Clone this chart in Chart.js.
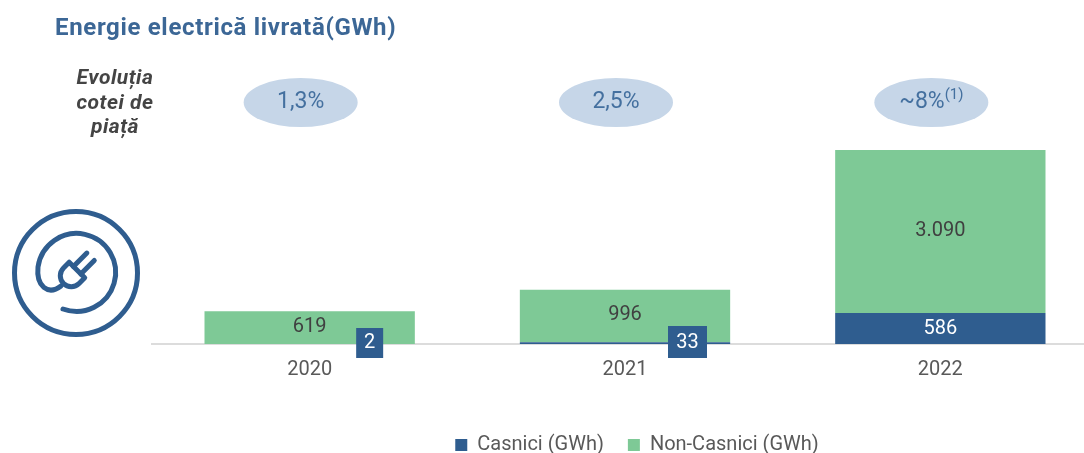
<!DOCTYPE html>
<html lang="ro">
<head>
<meta charset="utf-8">
<title>Energie electrică livrată</title>
<script src="https://cdn.jsdelivr.net/npm/chart.js@4"></script>
<style>
    html, body { margin: 0; padding: 0; background: #fff; overflow: hidden; }
    #wrap { position: relative; width: 1084px; height: 453px; overflow: hidden; font-family: Roboto, sans-serif; }
    #chart { position: absolute; left: 0; top: 0; }
    #title { position: absolute; left: 55px; top: 13px; font-size: 24px; letter-spacing: 0.66px; font-weight: 700; color: #3c6796; white-space: nowrap; }
    #side { position: absolute; left: 65px; top: 65px; width: 100px; text-align: center; font-size: 21px; letter-spacing: 0.5px; line-height: 24.5px; font-weight: 700; font-style: italic; color: #444; }
    #icon { position: absolute; left: 0; top: 200px; }
</style>
</head>
<body>
<div id="wrap">
    <canvas id="chart" width="1098" height="453" style="width:1098px;height:453px"></canvas>
    <div id="title">Energie electrică livrată(GWh)</div>
    <div id="side">Evoluția<br>cotei de<br>piață</div>
    <svg id="icon" width="150" height="150" viewBox="0 200 150 150" fill="none" stroke="#2f5d8f" stroke-width="5" stroke-linecap="round" stroke-linejoin="round">
        <circle cx="76" cy="273" r="61.5"/>
        <path d="M63 309 A39 39 0 1 0 38 267 C36 286 48 296 61 286"/>
        <g transform="translate(72 275) rotate(45)">
            <path d="M-11 -7 H11 V1 A11 11 0 0 1 -11 1 Z"/>
            <path d="M-5 -7 V-26 M5.5 -7 V-26"/>
        </g>
    </svg>
</div>
<script>
const categories = ['2020', '2021', '2022'];
const casnici = [2, 33, 586];
const nonCasnici = [619, 996, 3090];
const casniciLabels = ['2', '33', '586'];
const nonCasniciLabels = ['619', '996', '3.090'];
const cotaPiata = ['1,3%', '2,5%', '~8%'];
const cotaNote = ['', '', '(1)'];

const albastru = '#2f5d8f';
const verde = '#7ec996';

// etichete pe bare si elipsele cu cota de piata
const etichete = {
    id: 'etichete',
    afterLayout(chart) {
        // legenda e putin mai la dreapta si mai jos decat ar pune-o Chart.js
        chart.legend.left += 12;
        chart.legend.right += 12;
        chart.legend.top += 13;
        chart.legend.bottom += 13;
    },
    afterDatasetsDraw(chart) {
        const ctx = chart.ctx;
        const barsCasnici = chart.getDatasetMeta(0).data;
        const barsNon = chart.getDatasetMeta(1).data;
        ctx.save();
        ctx.textAlign = 'center';
        ctx.textBaseline = 'middle';
        ctx.font = '20px Roboto';

        barsNon.forEach((bar, i) => {
            ctx.fillStyle = '#404040';
            ctx.fillText(nonCasniciLabels[i], bar.x, (bar.y + bar.base) / 2 - 1);
        });

        barsCasnici.forEach((bar, i) => {
            const eticheta = casniciLabels[i];
            if (casnici[i] < 100) {
                // valorile mici stau intr-un patrat mutat spre dreapta
                const lat = eticheta.length > 1;
                const w = lat ? 39 : 27;
                const h = lat ? 32 : 30;
                const cx = bar.x + (lat ? 62.5 : 60);
                ctx.fillStyle = albastru;
                ctx.fillRect(cx - w / 2, bar.base + 14 - h, w, h);
                ctx.fillStyle = '#fff';
                ctx.fillText(eticheta, cx, bar.base - 1);
            } else {
                ctx.fillStyle = '#fff';
                ctx.fillText(eticheta, bar.x, (bar.y + bar.base) / 2);
            }
        });

        barsNon.forEach((bar, i) => {
            const cx = bar.x - 9;
            const cy = 102.5;
            ctx.fillStyle = '#c6d6e8';
            ctx.beginPath();
            ctx.ellipse(cx, cy, 57, 24.5, 0, 0, Math.PI * 2);
            ctx.fill();
            ctx.fillStyle = '#44709f';
            ctx.font = '23px Roboto';
            const w = ctx.measureText(cotaPiata[i]).width;
            ctx.font = '15px Roboto';
            const n = ctx.measureText(cotaNote[i]).width;
            const start = cx - (w + n) / 2;
            ctx.textAlign = 'left';
            ctx.font = '23px Roboto';
            ctx.fillText(cotaPiata[i], start, cy);
            ctx.font = '15px Roboto';
            ctx.fillText(cotaNote[i], start + w, cy - 7);
            ctx.textAlign = 'center';
        });
        ctx.restore();
    }
};

new Chart(document.getElementById('chart').getContext('2d'), {
    type: 'bar',
    data: {
        labels: categories,
        datasets: [
            { label: 'Casnici (GWh)', data: casnici, backgroundColor: albastru },
            { label: 'Non-Casnici (GWh)', data: nonCasnici, backgroundColor: verde }
        ]
    },
    options: {
        responsive: false,
        animation: false,
        categoryPercentage: 1,
        barPercentage: 0.667,
        layout: { padding: { left: 152, right: 0, top: 150, bottom: 1 } },
        scales: {
            x: {
                stacked: true,
                grid: { display: false, drawTicks: false },
                border: { color: '#dcdcdc', width: 2 },
                ticks: { color: '#595959', font: { family: 'Roboto', size: 20 }, padding: 14 },
                afterFit(scale) { scale.height = 54; }
            },
            y: { stacked: true, display: false, min: 0, max: 3676 }
        },
        plugins: {
            tooltip: { enabled: false },
            legend: {
                position: 'bottom',
                labels: {
                    color: '#595959',
                    font: { family: 'Roboto', size: 20 },
                    boxWidth: 12,
                    boxHeight: 12,
                    padding: 24
                }
            }
        }
    },
    plugins: [etichete]
});
</script>
</body>
</html>
